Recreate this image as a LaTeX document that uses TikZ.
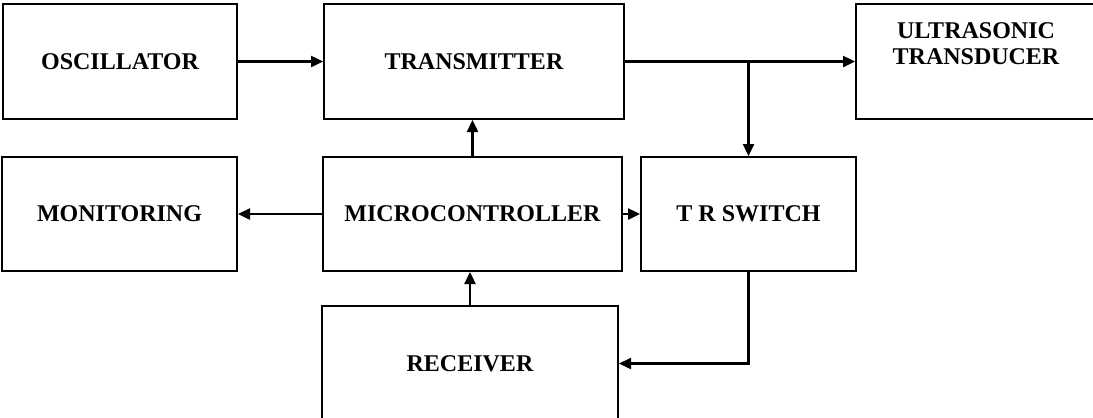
\documentclass[tikz,border=0pt]{standalone}
\usepackage{fontspec}
\setmainfont{Liberation Serif}
\usetikzlibrary{arrows.meta}
\begin{document}
\begin{tikzpicture}[x=1bp,y=-1bp,
  blk/.style={draw, line width=2bp, rectangle, inner sep=0pt,
    font=\fontsize{24bp}{26bp}\selectfont\bfseries, align=center},
  conn/.style={draw, line width=2.4bp, -{Triangle[length=12bp,width=11bp]}}]
\useasboundingbox (0,0) rectangle (1093,417);
\clip (0,0) rectangle (1093,417);
\fill[white] (0,0) rectangle (1093,417);
% row 1
\node[blk, minimum width=234bp, minimum height=115bp] (osc) at (120,61.5) {OSCILLATOR};
\node[blk, minimum width=300bp, minimum height=115bp] (trans) at (474,61.5) {TRANSMITTER};
\node[blk, minimum width=240bp, minimum height=115bp] (ut) at (976,61.5)
  {\raisebox{15bp}[\height][\depth]{\begin{tabular}{@{}c@{}}ULTRASONIC\\TRANSDUCER\end{tabular}}};
% row 2
\node[blk, minimum width=235bp, minimum height=114bp] (mon) at (119.5,214) {MONITORING};
\node[blk, minimum width=299bp, minimum height=114bp] (mc) at (472.5,214) {MICROCONTROLLER};
\node[blk, minimum width=215bp, minimum height=114bp] (tr) at (748.5,214) {T R SWITCH};
% row 3
\node[blk, minimum width=296bp, minimum height=115bp] (rec) at (470,363.5) {RECEIVER};
% connectors
\draw[conn] (osc.east) -- (trans.west);
\draw[conn] (trans.east) -- (ut.west);
\coordinate (j) at (tr.north |- trans.east);
\draw[conn] (j) -- (tr.north);
\draw[conn] (mc.north) -- (mc.north |- trans.south);
\draw[conn] (mc.west) -- (mon.east);
\draw[conn] (mc.east) -- (tr.west);
\draw[conn] (rec.north) -- (rec.north |- mc.south);
\draw[conn] (tr.south) |- (rec.east);
\end{tikzpicture}
\end{document}
